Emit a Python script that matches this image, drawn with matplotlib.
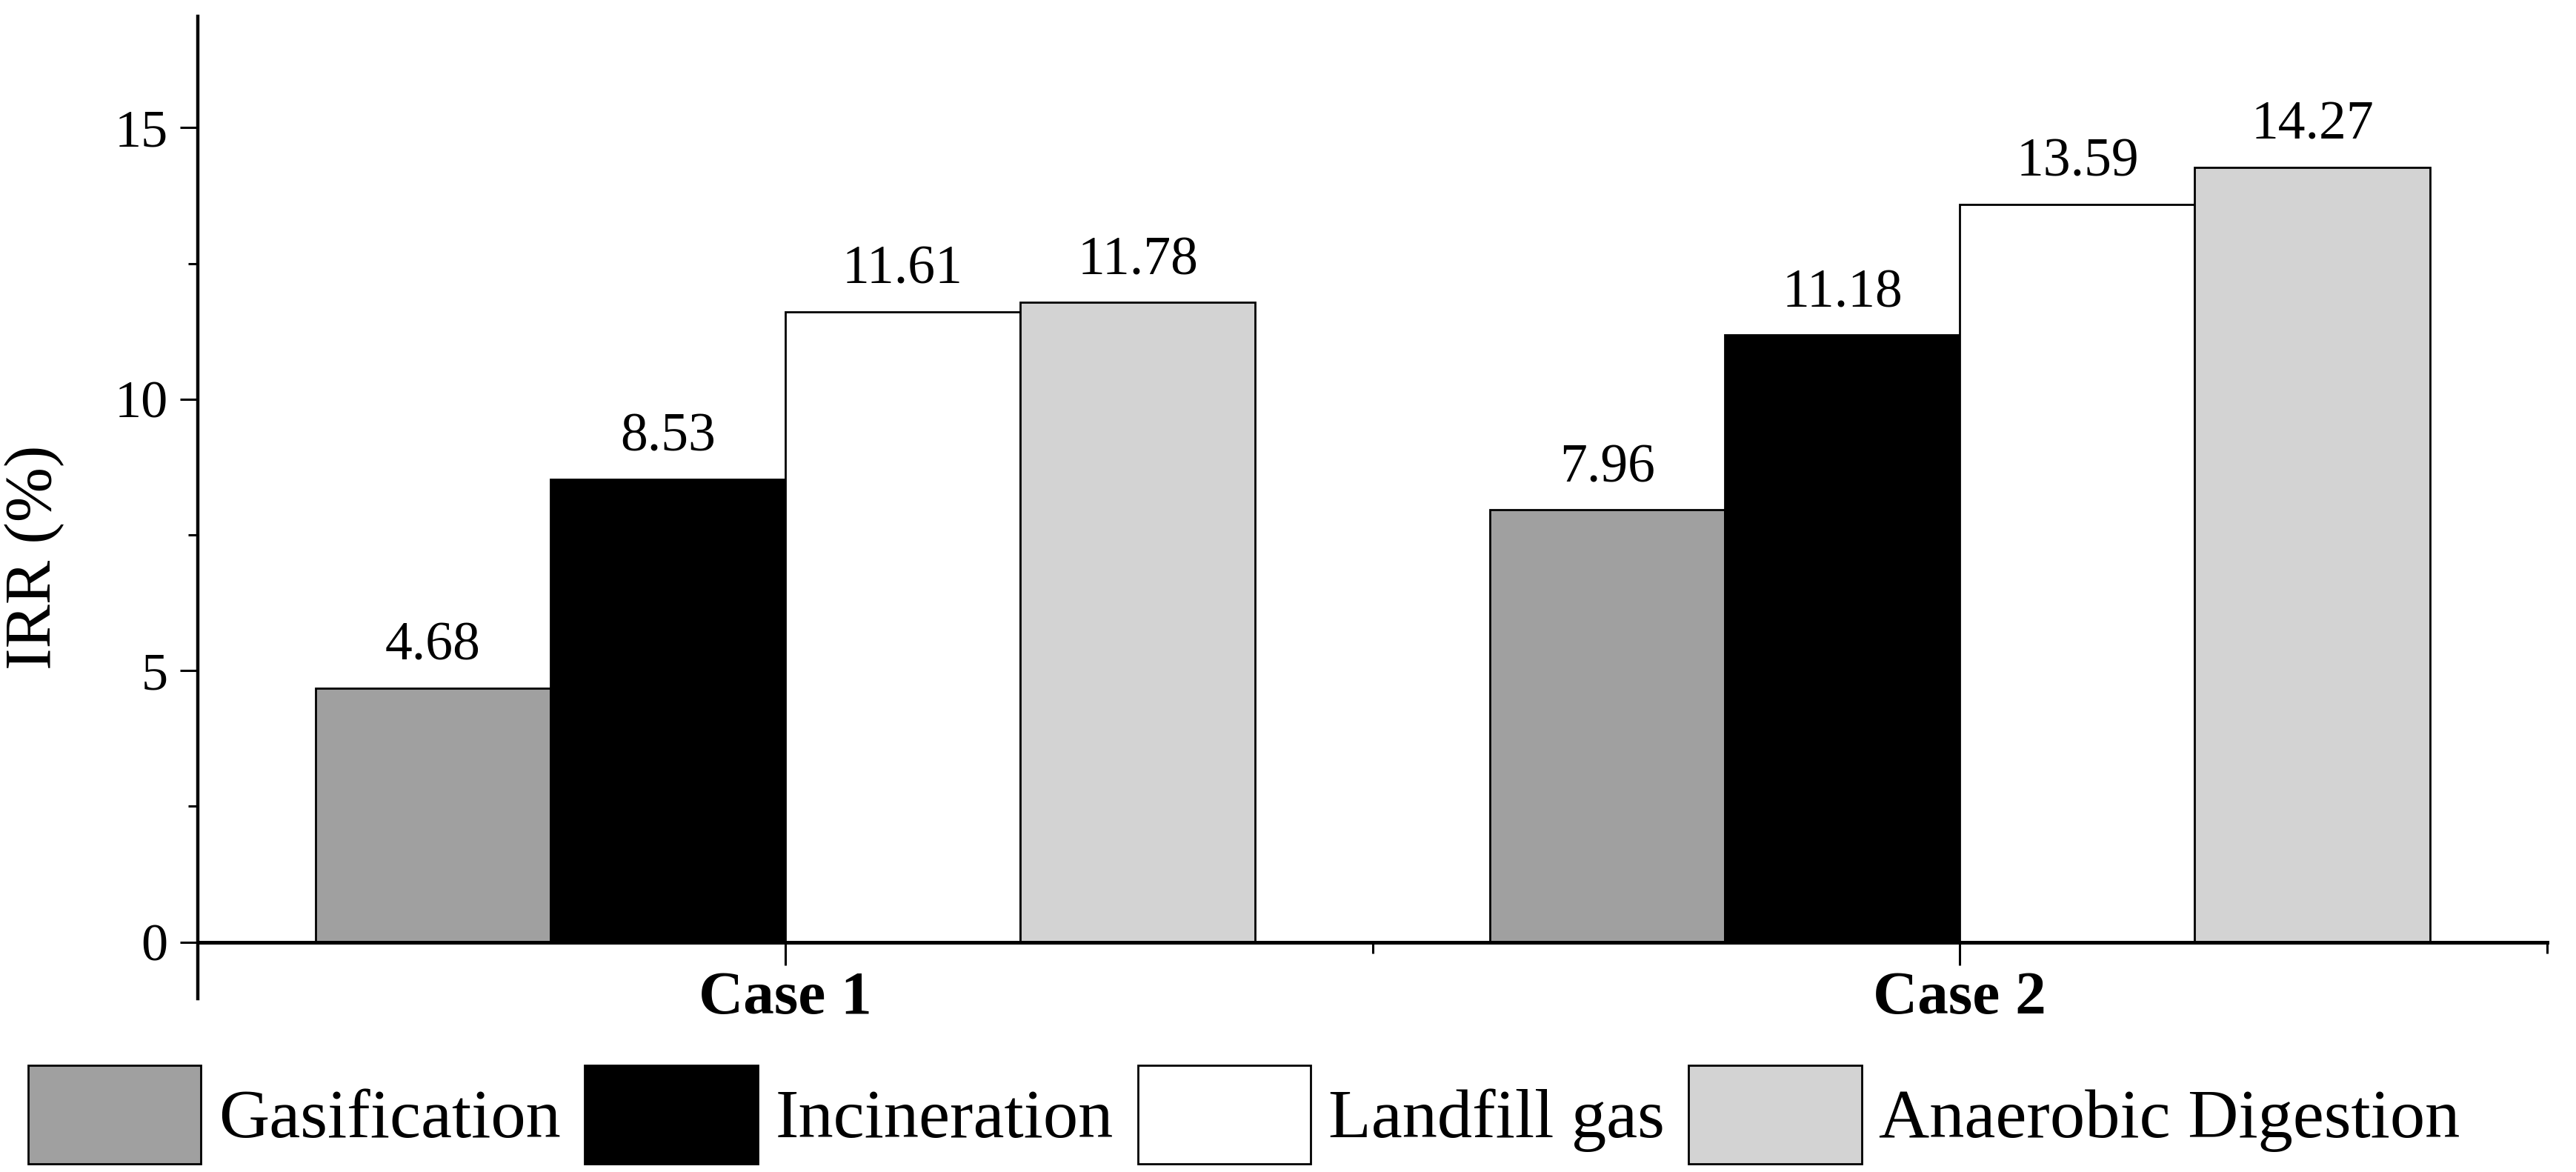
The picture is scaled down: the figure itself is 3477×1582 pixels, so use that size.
import matplotlib.pyplot as plt
import numpy as np

plt.rcParams["font.family"] = ["Liberation Serif", "DejaVu Serif"]

cases = ["Case 1", "Case 2"]
technologies = ["Gasification", "Incineration", "Landfill gas", "Anaerobic Digestion"]
irr_case1 = [4.68, 8.53, 11.61, 11.78]
irr_case2 = [7.96, 11.18, 13.59, 14.27]
colors = ["#a0a0a0", "#000000", "#ffffff", "#d3d3d3"]


def main():
    fig = plt.figure(figsize=(34.77, 15.82), dpi=100)
    ax = fig.add_axes([0.0768, 0.148, 0.912, 0.838])

    x = np.arange(len(cases))
    width = 0.2
    values = np.array([irr_case1, irr_case2]).T

    for i, tech in enumerate(technologies):
        pos = x + (i - 1.5) * width
        bars = ax.bar(pos, values[i], width, color=colors[i],
                      edgecolor="black", linewidth=2, label=tech)
        for b, v in zip(bars, values[i]):
            ax.annotate(f"{v:.2f}", (b.get_x() + b.get_width() / 2, v),
                        xytext=(0, 16), textcoords="offset points",
                        ha="center", va="bottom", fontsize=53)

    ax.set_xlim(-0.5, 1.5)
    ax.set_ylim(-1.04, 17.05)

    ax.spines["top"].set_visible(False)
    ax.spines["right"].set_visible(False)
    ax.spines["bottom"].set_position(("data", 0))
    ax.spines["left"].set_linewidth(3.2)
    ax.spines["bottom"].set_linewidth(3.6)

    ax.set_xticks(x)
    ax.set_xticklabels(cases, fontsize=60, fontweight="bold")
    ax.set_xticks([0.5, 1.5], minor=True)
    ax.set_yticks([0, 5, 10, 15])
    ax.set_yticks([2.5, 7.5, 12.5], minor=True)
    ax.tick_params(axis="y", which="major", direction="out", length=17,
                   width=2.2, labelsize=52, pad=12)
    ax.tick_params(axis="y", which="minor", direction="out", length=9.5, width=2.2)
    ax.tick_params(axis="x", which="major", direction="out", length=22,
                   width=2.2, pad=6)
    ax.tick_params(axis="x", which="minor", direction="out", length=11, width=2.2)

    ax.set_ylabel("IRR (%)", fontsize=64)
    ax.yaxis.set_label_coords(-0.0568, 0.449)

    fig.legend(loc="center left", bbox_to_anchor=(0.0, 0.049), ncol=4,
               frameon=False, fontsize=68, handlelength=2.47, handleheight=1.795,
               handletextpad=0.25, columnspacing=0.35, borderaxespad=0)

    fig.savefig("out.png", dpi=100)


if __name__ == "__main__":
    main()
